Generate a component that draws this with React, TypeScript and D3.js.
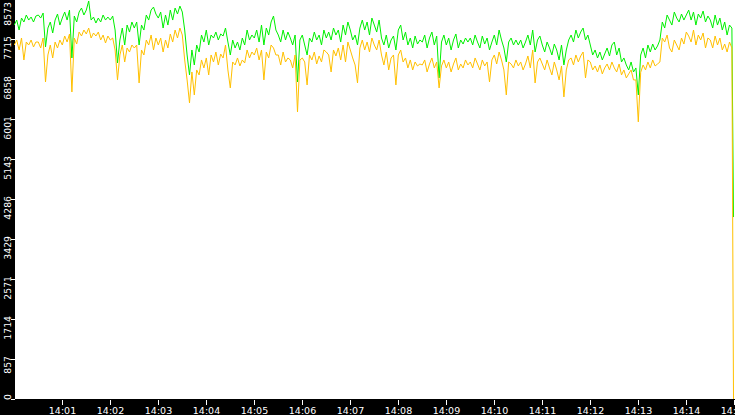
import React from "react";
import * as d3 from "d3";

// samples every 3 s from 14:00:00, last one at 14:15:00
const startTime = new Date(2024, 0, 1, 14, 0, 0);
const endTime = new Date(2024, 0, 1, 14, 15, 0);
const stepSeconds = 3;

const greenValues = [
  8015, 8122, 7908, 8165, 8080, 8230, 8122, 8186, 8080, 8208,
  8230, 8165, 8272, 7544, 7951, 8080, 7844, 8122, 8251, 8015,
  8165, 8294, 8122, 8336, 7309, 8208, 8080, 8294, 8379, 8230,
  8336, 8529, 8122, 8186, 8058, 8165, 8080, 8230, 8122, 8186,
  8122, 8208, 7908, 7202, 7694, 7951, 7587, 8015, 7865, 8080,
  7951, 8080, 7587, 8015, 7908, 8230, 8122, 8336, 8400, 8251,
  8165, 8294, 7951, 8230, 8015, 8336, 8122, 8379, 8251, 8422,
  8294, 7908, 7373, 6945, 7480, 7159, 7587, 7437, 7801, 7651,
  7908, 7587, 7801, 7737, 7865, 7694, 7823, 7780, 7951, 7651,
  7373, 7694, 7523, 7651, 7480, 7737, 7587, 7908, 7694, 7801,
  7737, 7908, 7651, 8015, 7587, 7951, 7801, 8080, 8208, 7908,
  7801, 7651, 7908, 7694, 7865, 7737, 7587, 7801, 6795, 7694,
  7801, 7587, 7373, 7737, 7651, 7865, 7694, 7801, 7587, 7908,
  7737, 7865, 7694, 7951, 7801, 7908, 7651, 8015, 7801, 8080,
  7908, 7694, 7801, 7587, 7951, 8122, 7908, 8080, 7801, 8165,
  8015, 7865, 8122, 7737, 7587, 7801, 7523, 7694, 7780, 7480,
  7908, 8015, 7694, 7865, 7587, 7737, 7523, 7780, 7608, 7694,
  7651, 7801, 7523, 7737, 7865, 7587, 7780, 6881, 7651, 7801,
  7587, 7737, 7480, 7694, 7823, 7523, 7694, 7608, 7737, 7651,
  7737, 7587, 7801, 7651, 7523, 7780, 7608, 7737, 7480, 7651,
  7801, 7587, 7908, 7694, 7523, 7223, 7651, 7737, 7587, 7694,
  7587, 7694, 7523, 7651, 7801, 7587, 7908, 7437, 7694, 7780,
  7587, 7437, 7651, 7523, 7373, 7608, 7480, 7266, 7587, 7159,
  7480, 7694, 7801, 7651, 7908, 7737, 7865, 7951, 7694, 7801,
  7587, 7373, 7480, 7309, 7437, 7266, 7394, 7523, 7352, 7587,
  7651, 7373, 7523, 7223, 7309, 7159, 7052, 7223, 7009, 7095,
  6517, 7373, 7523, 7309, 7587, 7437, 7608, 7480, 7566, 7694,
  8080, 7951, 8230, 8122, 8015, 8294, 8165, 8080, 8251, 8122,
  8230, 8336, 8122, 8294, 8015, 8251, 8165, 8315, 8080, 8208,
  8122, 7951, 8230, 8015, 8165, 7908, 8080, 7801, 8015, 7951,
  3900,
];

const yellowValues = [
  7587, 7694, 7480, 7737, 7266, 7651, 7587, 7694, 7544, 7651,
  7651, 7523, 7737, 6795, 7373, 7587, 7309, 7651, 7523, 7694,
  7587, 7780, 7651, 7823, 6581, 7737, 7608, 7865, 7780, 7908,
  7823, 7951, 7737, 7844, 7780, 7865, 7694, 7801, 7630, 7780,
  7694, 7737, 7480, 6838, 7373, 7587, 7223, 7523, 7437, 7587,
  7523, 7587, 6774, 7480, 7373, 7694, 7587, 7801, 7480, 7737,
  7587, 7737, 7437, 7694, 7523, 7823, 7651, 7908, 7737, 7951,
  7801, 7266, 6838, 6346, 7009, 6517, 7052, 6945, 7266, 7095,
  7309, 6945, 7373, 7223, 7437, 7159, 7394, 7309, 7587, 7052,
  6667, 7223, 7159, 7309, 7138, 7266, 7202, 7480, 7309, 7437,
  7373, 7523, 7266, 7480, 6838, 7437, 7309, 7587, 7523, 7373,
  7373, 7159, 7437, 7223, 7309, 7266, 7095, 7373, 6153, 7266,
  7309, 7223, 6731, 7373, 7266, 7437, 7180, 7352, 7223, 7480,
  7437, 7373, 7009, 7480, 7352, 7523, 7266, 7587, 7223, 7651,
  7480, 7309, 7159, 6774, 7523, 7694, 7480, 7651, 7437, 7737,
  7587, 7480, 7694, 7373, 7159, 7437, 7052, 7309, 7373, 6731,
  7373, 7480, 7223, 7309, 7095, 7266, 7052, 7223, 7138, 7180,
  7159, 7266, 7009, 7180, 7309, 7095, 7223, 6667, 7138, 7266,
  7095, 7223, 7009, 7180, 7309, 7052, 7180, 7095, 7266, 7159,
  7223, 7095, 7309, 7180, 7052, 7266, 7138, 7223, 6795, 7266,
  7373, 7180, 7437, 7266, 7052, 6517, 7223, 7180, 7095, 7266,
  7138, 7223, 7052, 7180, 7352, 7095, 7480, 6774, 7223, 7309,
  7180, 7052, 7266, 7095, 6945, 7223, 7052, 6838, 7138, 6474,
  7052, 7266, 7309, 7159, 7373, 7223, 7352, 7437, 6881, 7266,
  7223, 7052, 7138, 7009, 7159, 6967, 7095, 7180, 7052, 7223,
  7095, 7009, 7180, 6945, 7052, 6881, 6967, 7052, 6838, 6838,
  5940, 7002, 7159, 7052, 7223, 7095, 7266, 7138, 7180, 7223,
  7737, 7651, 7801, 7523, 7437, 7694, 7587, 7480, 7737, 7608,
  7865, 7780, 7651, 7908, 7587, 7801, 7694, 7844, 7523, 7737,
  7694, 7523, 7780, 7587, 7737, 7480, 7608, 7437, 7651, 7523,
  0,
];

const yTickLabels = ["0", "857", "1714", "2571", "3429", "4286", "5143", "6001", "6858", "7715", "8573"];
const yMax = 8573;

const W = 735;
const H = 415;
const plotLeft = 15;
const plotBottom = 399;

function timeAt(i: number, n: number) {
  if (i === n - 1) return endTime;
  return new Date(startTime.getTime() + i * stepSeconds * 1000);
}

export default function App() {
  const x = d3.scaleTime().domain([startTime, endTime]).range([14.3, 734.3]);
  const y = d3.scaleLinear().domain([0, yMax]).range([plotBottom, -1]);

  // keep the closing drop inside the last pixel column
  const line = d3
    .line<number>()
    .x((_, i, arr) => Math.min(x(timeAt(i, arr.length)), 733.5))
    .y((d) => y(d));

  const minuteTicks = d3.timeMinute.range(
    new Date(2024, 0, 1, 14, 1, 0),
    new Date(2024, 0, 1, 14, 15, 30)
  );
  const fmt = d3.timeFormat("%H:%M");
  const font = "'DejaVu Sans', Verdana, sans-serif";

  return (
    <>
      <style>{`body{margin:0;background:#fff}`}</style>
      <svg width={W} height={H} style={{ display: "block" }}>
        <rect x={0} y={0} width={W} height={H} fill="#000" />
        <rect x={plotLeft} y={0} width={W - plotLeft} height={plotBottom} fill="#fff" />

        <path d={line(greenValues) || ""} fill="none" stroke="#00f000" strokeWidth={1} />
        <path d={line(yellowValues) || ""} fill="none" stroke="#ffc000" strokeWidth={1} />

        {yTickLabels.map((lab, k) => {
          const ty = Math.round(y((k * yMax) / 10));
          const textLen = lab.length * 5.9;
          let end = ty - 3;
          if (end + textLen > plotBottom + 1) end = plotBottom + 1 - textLen;
          if (end < 2) end = 2;
          return (
            <g key={lab}>
              {ty >= 0 && (
                <line x1={11} x2={15} y1={ty + 0.5} y2={ty + 0.5} stroke="#fff" strokeWidth={1} />
              )}
              <text
                transform={`translate(10.5,${end}) rotate(-90)`}
                textAnchor="end"
                fill="#fff"
                fontFamily={font}
                fontSize={9.3}
              >
                {lab}
              </text>
            </g>
          );
        })}

        {minuteTicks.map((t) => {
          const tx = Math.round(x(t)) + 0.5;
          return (
            <g key={t.getTime()}>
              <line x1={tx} x2={tx} y1={400} y2={405} stroke="#fff" strokeWidth={1} />
              <text x={tx} y={413.5} textAnchor="middle" fill="#fff" fontFamily={font} fontSize={9.5}>
                {fmt(t)}
              </text>
            </g>
          );
        })}
      </svg>
    </>
  );
}
